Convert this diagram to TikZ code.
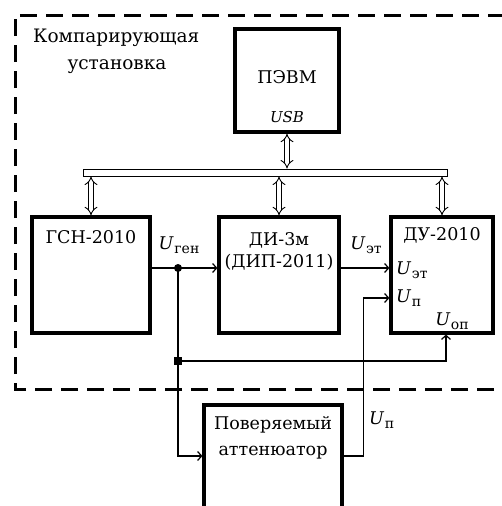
\documentclass[tikz,border=0pt]{standalone}
\usepackage{fontspec}
\setmainfont{DejaVu Serif}
\usetikzlibrary{arrows.meta}
\newcommand{\Ui}[1]{\textit{U}\kern0.5pt\raisebox{-0.5ex}{\fontsize{14}{14}\selectfont #1}}
\begin{document}
\begin{tikzpicture}[x=1pt,y=-1pt,
  every node/.style={font=\fontsize{17.5}{20}\selectfont, inner sep=0pt},
  blk/.style={draw, line width=3.2pt},
  wire/.style={line width=1.2pt},
  arr/.style={wire, -{Straight Barb[length=4pt,width=9pt]}},
  dbl/.style={double, double distance=3.6pt, line width=0.9pt, {Implies}-{Implies}},
  frame/.style={line width=3pt, dash pattern=on 17pt off 9pt}]
\clip (0,0) rectangle (502,506);
\fill[white] (0,0) rectangle (502,506);
\draw[frame] (520,389) -- (15,389) -- (15,15) -- (520,15);
% blocks
\node[blk, minimum width=104pt, minimum height=103pt] (pc) at (287,80.5) {};
\node (pct) at (287,77) {ПЭВМ};
\node[font=\fontsize{15}{17}\selectfont\itshape] (usb) at (287,117) {USB};
\node[blk, minimum width=118pt, minimum height=116pt] (gsn) at (91,275) {};
\node (gsnt) at (91,237) {ГСН-2010};
\node[blk, minimum width=120pt, minimum height=116pt] (di) at (279,275) {};
\node (dit1) at (279,240) {ДИ-3м};
\node (dit2) at (279,262) {(ДИП-2011)};
\node[blk, minimum width=102pt, minimum height=116pt] (du) at (442,275) {};
\node (dut) at (442,235) {ДУ-2010};
\node[blk, minimum width=138pt, minimum height=120pt] (att) at (273,465) {};
\node (att1) at (273,425) {Поверяемый};
\node (att2) at (273,453) {аттенюатор};
\node[anchor=west, font=\fontsize{18.5}{20}\selectfont] (title1) at (33,38) {Компарирующая};
\node[font=\fontsize{18.5}{20}\selectfont] (title2) at (117,67) {установка};
% bus
\node[draw, line width=0.9pt, minimum width=364pt, minimum height=7pt] (bus) at (265,172.5) {};
\draw[dbl] (pc.south) -- (pc.south |- bus.north);
\draw[dbl] (bus.south -| gsn.north) -- (gsn.north);
\draw[dbl] (bus.south -| di.north) -- (di.north);
\draw[dbl] (bus.south -| du.north) -- (du.north);
% wires
\coordinate (j1) at (178,268);
\coordinate (j2) at (178,361);
\coordinate (attin) at (att.west |- 0,456);
\coordinate (attout) at (att.east |- 0,456);
\coordinate (duop) at ([xshift=4pt]du.south);
\coordinate (dup) at (du.west |- 0,298);
\draw[arr] (gsn.east |- j1) -- (di.west |- j1);
\draw[wire] (j1) -- (j2);
\draw[arr] (j2) |- (attin);
\draw[arr] (j2) -| (duop);
\draw[arr] (di.east |- j1) -- (du.west |- j1);
\draw[arr] (attout) -- ++(20,0) |- (dup);
\fill (j1) circle (4pt);
\fill (j2) ++(-4,-4) rectangle ++(8,8);
% labels
\node (ugen) at (179,245) {\Ui{ген}};
\node (uet) at (366,245) {\Ui{эт}};
\node[anchor=west] (uet2) at (396,270) {\Ui{эт}};
\node[anchor=west] (up2) at (396,298) {\Ui{п}};
\node (uop) at (452,321) {\Ui{оп}};
\node[anchor=west] (up) at (369,420) {\Ui{п}};
\end{tikzpicture}
\end{document}
